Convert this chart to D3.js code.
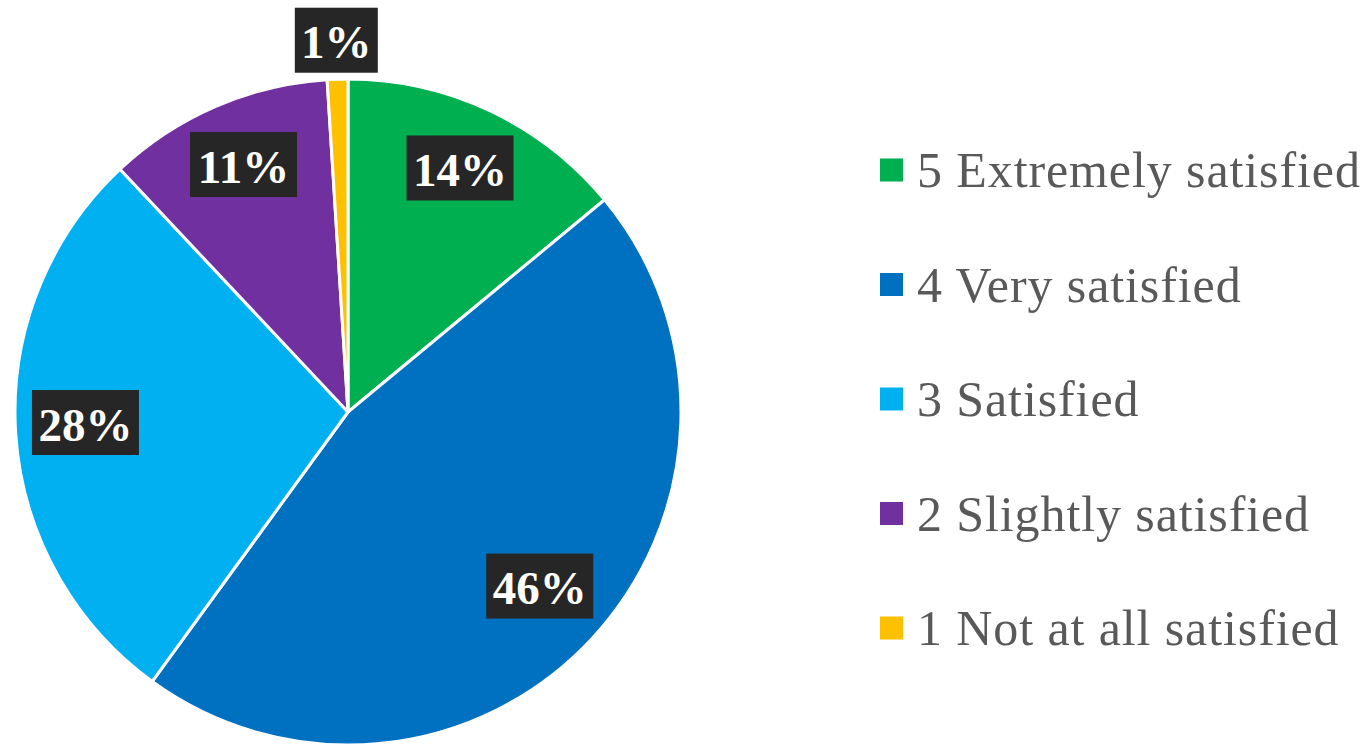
<!DOCTYPE html>
<html>
<head>
<meta charset="utf-8">
<script src="https://cdn.jsdelivr.net/npm/d3@7"></script>
<style>
  html, body { margin: 0; padding: 0; background: #ffffff; }
  svg { display: block; }
</style>
</head>
<body>
<svg id="chart" width="1365" height="744"></svg>
<script>
// Satisfaction ratings, share of respondents (%)
const categories = ["5 Extremely satisfied", "4 Very satisfied", "3 Satisfied", "2 Slightly satisfied", "1 Not at all satisfied"];
const values = [14, 46, 28, 11, 1];
const colors = ["#00B050", "#0070C0", "#00B0F0", "#7030A0", "#FFC000"];
const labels = ["14%", "46%", "28%", "11%", "1%"];

const svg = d3.select("#chart");
const cx = 348, cy = 412, R = 333;

const pie = d3.pie().sort(null).value(d => d)(values);
const arc = d3.arc().innerRadius(0).outerRadius(R);

const g = svg.append("g").attr("transform", `translate(${cx},${cy})`);

g.selectAll("path.slice")
  .data(pie)
  .join("path")
  .attr("class", "slice")
  .attr("d", arc)
  .attr("fill", (d, i) => colors[i])
  .attr("stroke", "#ffffff")
  .attr("stroke-width", 3)
  .attr("stroke-linejoin", "round");

// Data labels: inside for large slices, outside for tiny ones
const inside = d3.arc().innerRadius(R * 0.79).outerRadius(R * 0.79);
const outside = d3.arc().innerRadius(R * 1.117).outerRadius(R * 1.117);
const labelFont = "'Liberation Serif', 'DejaVu Serif', serif";

const lab = g.selectAll("g.label")
  .data(pie)
  .join("g")
  .attr("class", "label")
  .attr("transform", (d, i) => {
    const small = values[i] < 5;
    const a = (small ? outside : inside).centroid(d);
    return `translate(${a[0]},${a[1] - (small ? 0 : 6)})`;
  });

lab.each(function(d, i) {
  const sel = d3.select(this);
  const bw = i === 4 ? 83 : 107, bh = 65;
  sel.append("rect")
    .attr("fill", "#262626")
    .attr("x", -bw / 2).attr("y", -bh / 2)
    .attr("width", bw).attr("height", bh);
  sel.append("text")
    .attr("text-anchor", "middle")
    .attr("dominant-baseline", "central")
    .attr("y", 2)
    .attr("fill", "#ffffff")
    .attr("font-family", labelFont)
    .attr("font-weight", "bold")
    .attr("font-size", 47)
    .text(labels[i]);
});

// Legend
const legendY = d3.scalePoint().domain(categories).range([170, 628]);
const item = svg.append("g").selectAll("g.item")
  .data(categories)
  .join("g")
  .attr("class", "item")
  .attr("transform", d => `translate(880,${legendY(d)})`);

item.append("rect")
  .attr("x", 0).attr("y", -11.5)
  .attr("width", 23).attr("height", 23)
  .attr("fill", (d, i) => colors[i]);

item.append("text")
  .attr("x", 37)
  .attr("y", 0)
  .attr("dominant-baseline", "central")
  .attr("fill", "#595959")
  .attr("font-family", labelFont)
  .attr("font-size", 50)
  .attr("letter-spacing", 0.9)
  .text(d => d);
</script>
</body>
</html>
